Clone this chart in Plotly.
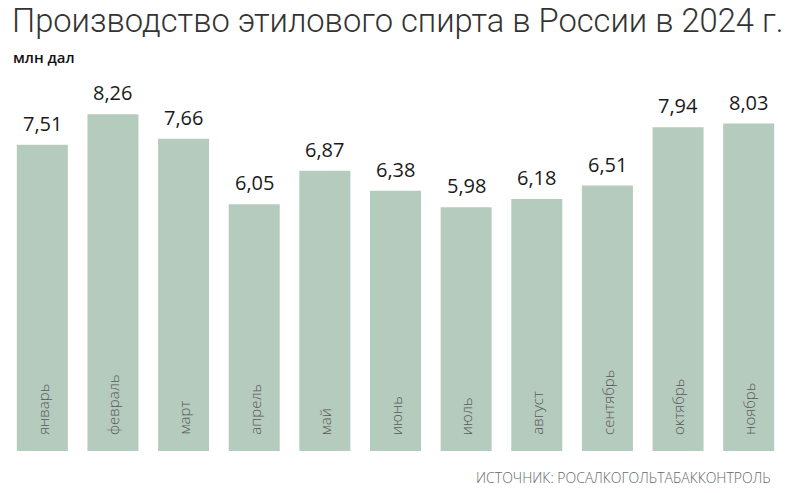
import plotly.graph_objects as go

months = ["январь", "февраль", "март", "апрель", "май", "июнь", "июль",
          "август", "сентябрь", "октябрь", "ноябрь"]
values = [7.51, 8.26, 7.66, 6.05, 6.87, 6.38, 5.98, 6.18, 6.51, 7.94, 8.03]
value_labels = [f"{v:.2f}".replace(".", ",") for v in values]

title = "Производство этилового спирта в России в 2024 г."
unit = "млн дал"
source = "ИСТОЧНИК: РОСАЛКОГОЛЬТАБАККОНТРОЛЬ"

bar_color = "#b5cbbd"

W, H = 789, 493
ML, MR, MT, MB = 7, 5, 84, 42
PW, PH = W - ML - MR, H - MT - MB


def px_x(x):
    return (x - ML) / PW


def px_y(y):
    return (H - MB - y) / PH


fig = go.Figure(go.Bar(x=months, y=values, marker_color=bar_color,
                       marker_line_width=0, hoverinfo="skip"))

annotations = []
for m, v, lab in zip(months, values, value_labels):
    annotations.append(dict(x=m, y=v, text=lab, showarrow=False,
                            xanchor="center", yanchor="bottom", yshift=6,
                            font=dict(family="Open Sans", size=20, color="#1a1a1a", weight=500)))
    annotations.append(dict(x=m, y=0, text=m, showarrow=False, textangle=-90,
                            xanchor="center", yanchor="bottom", yshift=14,
                            font=dict(family="Open Sans", size=15, color="#5a5a5a", weight=300)))

annotations.append(dict(x=px_x(10), y=px_y(21), xref="paper", yref="paper",
                        xanchor="left", yanchor="middle", showarrow=False, text=title,
                        font=dict(family="Roboto", size=32.7, color="#333333", weight=300)))
annotations.append(dict(x=px_x(11), y=px_y(57), xref="paper", yref="paper",
                        xanchor="left", yanchor="middle", showarrow=False, text=unit,
                        font=dict(family="Open Sans", size=15, color="#111111", weight=600)))
annotations.append(dict(x=px_x(773), y=px_y(477), xref="paper", yref="paper",
                        xanchor="right", yanchor="middle", showarrow=False, text=source,
                        font=dict(family="Open Sans", size=14, color="#666666", weight=300)))

fig.update_layout(
    width=W, height=H,
    margin=dict(l=ML, r=MR, t=MT, b=MB),
    paper_bgcolor="white", plot_bgcolor="white",
    bargap=0.278,
    showlegend=False,
    xaxis=dict(range=[-0.5, 10.5], showticklabels=False, showgrid=False,
               zeroline=False, showline=False, ticks=""),
    yaxis=dict(range=[0, 9], showticklabels=False, showgrid=False,
               zeroline=False, showline=False, ticks=""),
    annotations=annotations,
)

fig.write_html("out.html")
